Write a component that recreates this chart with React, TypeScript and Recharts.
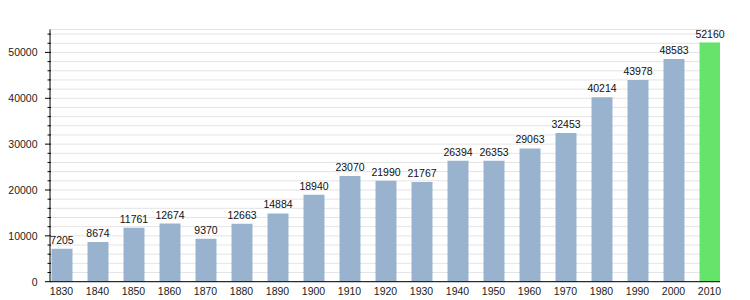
import React from 'react';
import { BarChart, Bar, XAxis, YAxis, CartesianGrid, Cell, LabelList } from 'recharts';

const YEARS = ['1830','1840','1850','1860','1870','1880','1890','1900','1910','1920','1930','1940','1950','1960','1970','1980','1990','2000','2010'];
const POPULATION = [7205,8674,11761,12674,9370,12663,14884,18940,23070,21990,21767,26394,26353,29063,32453,40214,43978,48583,52160];
const HIGHLIGHT_YEAR = '2010';
const Y_TICKS = [0,2000,4000,6000,8000,10000,12000,14000,16000,18000,20000,22000,24000,26000,28000,30000,32000,34000,36000,38000,40000,42000,44000,46000,48000,50000,52000,54000];
const MAJOR_TICKS = [0,10000,20000,30000,40000,50000];
const X_TICKS = YEARS.map((_, i) => i);

const data = YEARS.map((y, i) => ({ i, year: y, value: POPULATION[i] }));

const FONT = '"Liberation Sans", Arial, sans-serif';
const BLUE = '#99b3cf';
const GREEN = '#66e36a';

const YTick = (props: any) => {
  const { x, y, payload } = props;
  const v = payload.value;
  const major = MAJOR_TICKS.includes(v);
  if (major) {
    return (
      <g>
        <line x1={x - 5} x2={x + 1} y1={y} y2={y} stroke="#000" strokeWidth={1} />
        <text x={x - 12.5} y={y + 3.8} textAnchor="end" fontSize={10.5} fontFamily={FONT} fill="#222">{v}</text>
      </g>
    );
  }
  return <line x1={x - 2.5} x2={x + 1} y1={y} y2={y} stroke="#000" strokeWidth={1} />;
};

const XTick = (props: any) => {
  const { x, y, payload } = props;
  return (
    <text x={x} y={y + 13} textAnchor="middle" fontSize={10.5} fontFamily={FONT} fill="#222">{YEARS[payload.value]}</text>
  );
};

const majorGen = (p: any) => {
  const s = p && p.yAxis && p.yAxis.scale;
  if (typeof s === 'function') return MAJOR_TICKS.map((v) => s(v));
  return [];
};

export default function App() {
  return (
    <div style={{ position: 'absolute', left: 0, top: 0, width: 750, height: 300, background: '#fff' }}>
      <BarChart width={750} height={300} data={data} margin={{ top: 29.5, right: 30, bottom: 0, left: 0 }}>
        <CartesianGrid vertical={false} stroke="#e4e4e4" strokeWidth={1} />
        <CartesianGrid vertical={false} stroke="#a8a8a8" strokeWidth={1} horizontalCoordinatesGenerator={majorGen} />
        <XAxis
          dataKey="i"
          type="number"
          domain={[-0.3194, 18.2917]}
          ticks={X_TICKS}
          allowDataOverflow
          tick={<XTick />}
          tickLine={false}
          tickSize={0}
          tickMargin={0}
          height={18.3}
          axisLine={{ stroke: '#000', strokeWidth: 1 }}
          interval={0}
        />
        <YAxis
          domain={[0, 55000]}
          ticks={Y_TICKS}
          interval={0}
          width={50}
          tick={<YTick />}
          tickLine={false}
          tickSize={0}
          tickMargin={0}
          axisLine={{ stroke: '#000', strokeWidth: 1 }}
          allowDataOverflow
        />
        <Bar dataKey="value" barSize={21} isAnimationActive={false}>
          {data.map((d) => (
            <Cell key={d.year} fill={d.year === HIGHLIGHT_YEAR ? GREEN : BLUE} />
          ))}
          <LabelList dataKey="value" position="top" offset={5} fontSize={10.5} fontFamily={FONT} fill="#111" />
        </Bar>
      </BarChart>
    </div>
  );
}
